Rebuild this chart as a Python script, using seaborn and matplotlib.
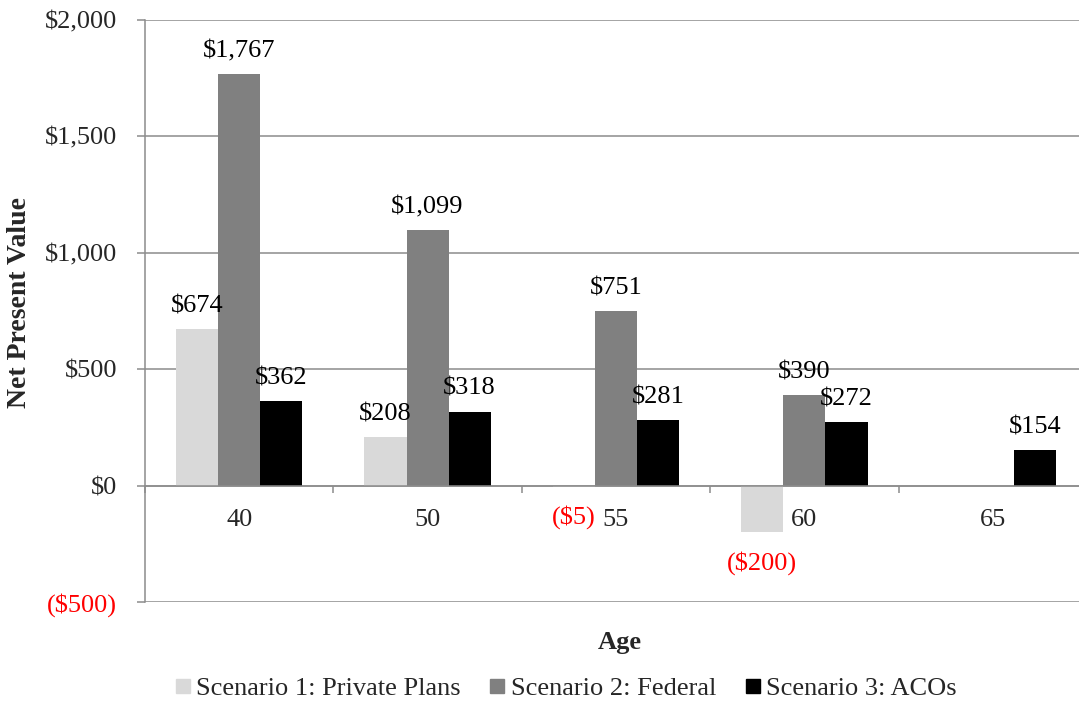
import numpy as np
import pandas as pd
import matplotlib
matplotlib.use("Agg")
import matplotlib.pyplot as plt
from matplotlib.lines import Line2D
import seaborn as sns

# ---- data ----
ages = ["40", "50", "55", "60", "65"]
scenario1 = [674, 208, -5, -200, np.nan]
scenario2 = [1767, 1099, 751, 390, np.nan]
scenario3 = [362, 318, 281, 272, 154]
series_names = ["Scenario 1: Private Plans", "Scenario 2: Federal", "Scenario 3: ACOs"]
series_colors = ["#D9D9D9", "#808080", "#000000"]
y_ticks = [-500, 0, 500, 1000, 1500, 2000]

sns.set_style("white")
plt.rcParams["font.family"] = ["Liberation Serif", "DejaVu Serif"]

rows = []
for name, vals in zip(series_names, [scenario1, scenario2, scenario3]):
    for a, v in zip(ages, vals):
        rows.append({"Age": a, "Scenario": name, "Value": v})
df = pd.DataFrame(rows)


def money(v):
    v = int(round(v))
    if v < 0:
        return "(${:,})".format(-v)
    return "${:,}".format(v)


fig = plt.figure(figsize=(10.79, 7.02), dpi=100)
ax = fig.add_axes([145 / 1079, 1 - 602 / 702, 942 / 1079, 582 / 702])

sns.barplot(data=df, x="Age", y="Value", hue="Scenario", order=ages,
            hue_order=series_names, palette=series_colors, width=0.67,
            errorbar=None, saturation=1, ax=ax, legend=False, linewidth=0)

grid_c = "#8C8C8C"
ax.set_ylim(-500, 2000)
ax.set_xlim(-0.5, 4.5)
ax.set_yticks(y_ticks, [money(t) for t in y_ticks])
for lab in ax.get_yticklabels():
    if lab.get_text().startswith("("):
        lab.set_color("red")
ax.yaxis.grid(True, color=grid_c, linewidth=1.1)
ax.set_axisbelow(True)
ax.tick_params(axis="y", direction="out", length=6, width=1.1, color=grid_c,
               labelsize=19, pad=14, left=True)

for s in ["top", "right"]:
    ax.spines[s].set_visible(False)
ax.spines["left"].set_color(grid_c)
ax.spines["left"].set_linewidth(1.1)
ax.spines["bottom"].set_position(("data", 0))
ax.spines["bottom"].set_color(grid_c)
ax.spines["bottom"].set_linewidth(1.1)

ax.set_xticks(range(len(ages)), ages)
ax.set_xticks(np.arange(-0.5, len(ages), 1.0), minor=True)
ax.tick_params(axis="x", which="major", length=0, labelsize=19, pad=17)
ax.tick_params(axis="x", which="minor", direction="out", length=5, width=1.1,
               color=grid_c, bottom=True)

ax.set_xlabel("")
ax.set_ylabel("")
fig.text(20 / 1079, 1 - 302 / 702, "Net Present Value", fontsize=20, fontweight="bold",
         rotation=90, ha="center", va="center")
fig.text(620 / 1079, 1 - 642 / 702, "Age", fontsize=19, fontweight="bold",
         ha="center", va="center")

# value labels
for cont in ax.containers:
    for p in cont.patches:
        h = p.get_height()
        if np.isnan(h):
            continue
        xc = p.get_x() + p.get_width() / 2
        if h >= 0:
            ax.annotate(money(h), (xc, h), xytext=(0, 12), textcoords="offset points",
                        ha="center", va="baseline", fontsize=19, color="black")
        else:
            ax.annotate(money(h), (xc, h), xytext=(0, -22), textcoords="offset points",
                        ha="center", va="center", fontsize=19, color="red")

handles = [Line2D([], [], marker="s", linestyle="none", markersize=10,
                  markerfacecolor=c, markeredgecolor=c) for c in series_colors]
fig.legend(handles, series_names, loc="center", bbox_to_anchor=(563 / 1079, 1 - 688 / 702),
           ncol=3, frameon=False, fontsize=19, handletextpad=0.0, columnspacing=0.9,
           handlelength=1.0)

fig.savefig("out.png", dpi=100)
